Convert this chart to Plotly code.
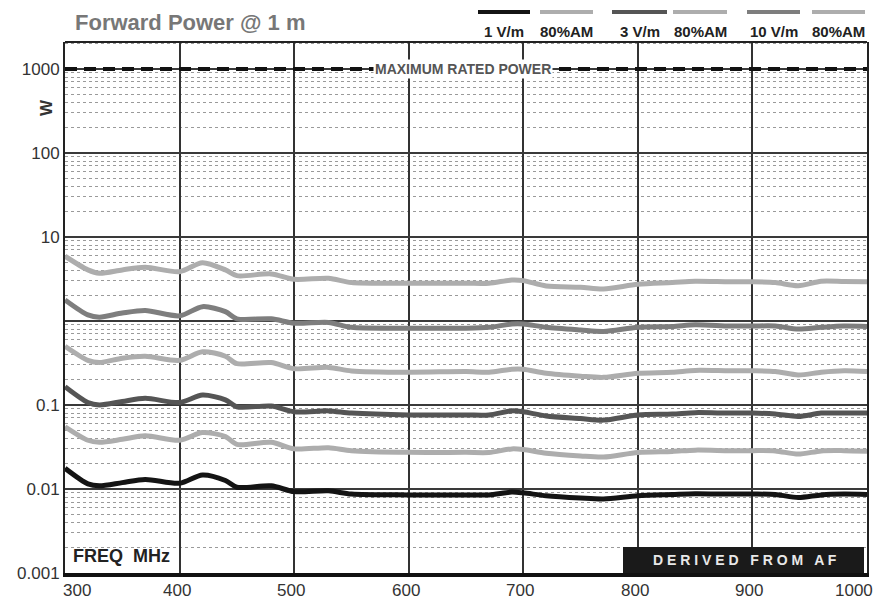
import plotly.graph_objects as go

# ---- data ----
freq_mhz = [300, 320, 330, 350, 370, 400, 420, 440, 450, 480, 500, 530, 550, 600, 650,
            670, 690, 700, 720, 750, 770, 800, 830, 850, 880, 900, 920, 940, 960, 980, 1000]

p_1vm = [0.0176, 0.0115, 0.0109, 0.0119, 0.0130, 0.0117, 0.0147, 0.0126, 0.0105, 0.0109,
         0.0093, 0.0095, 0.0087, 0.0085, 0.0085, 0.0085, 0.0092, 0.0090, 0.0083, 0.0078,
         0.0076, 0.0083, 0.0086, 0.0088, 0.0087, 0.0087, 0.0086, 0.0079, 0.0085, 0.0087, 0.0086]
p_1vm_am = [0.055, 0.038, 0.036, 0.039, 0.043, 0.038, 0.047, 0.042, 0.034, 0.036,
            0.030, 0.031, 0.0286, 0.0273, 0.0273, 0.0272, 0.030, 0.0295, 0.0266, 0.0247,
            0.024, 0.0272, 0.028, 0.029, 0.0286, 0.0286, 0.0284, 0.026, 0.0284, 0.0286, 0.0282]
p_3vm = [0.165, 0.107, 0.100, 0.110, 0.120, 0.107, 0.131, 0.115, 0.095, 0.097,
         0.083, 0.085, 0.080, 0.076, 0.076, 0.076, 0.085, 0.083, 0.074, 0.069,
         0.066, 0.076, 0.078, 0.081, 0.080, 0.080, 0.078, 0.073, 0.080, 0.080, 0.080]
p_3vm_am = [0.50, 0.34, 0.32, 0.36, 0.38, 0.34, 0.43, 0.38, 0.31, 0.32,
            0.27, 0.28, 0.254, 0.245, 0.25, 0.245, 0.266, 0.266, 0.238, 0.22,
            0.213, 0.238, 0.245, 0.258, 0.255, 0.255, 0.25, 0.228, 0.245, 0.255, 0.25]
p_10vm = [1.78, 1.18, 1.11, 1.24, 1.33, 1.15, 1.48, 1.29, 1.06, 1.06,
          0.94, 0.96, 0.84, 0.82, 0.82, 0.84, 0.92, 0.92, 0.84, 0.78,
          0.75, 0.84, 0.86, 0.90, 0.87, 0.87, 0.87, 0.80, 0.84, 0.87, 0.86]
p_10vm_am = [5.9, 4.05, 3.7, 4.05, 4.36, 3.86, 4.94, 4.05, 3.46, 3.63,
             3.13, 3.22, 2.86, 2.81, 2.81, 2.81, 3.07, 3.02, 2.61, 2.52,
             2.40, 2.73, 2.86, 2.97, 2.92, 2.92, 2.86, 2.63, 2.97, 2.95, 2.92]

max_power_x = [300, 1000]
max_power_y = [1000, 1000]

y_tickvals = [0.001, 0.01, 0.1, 1, 10, 100, 1000]
y_ticktext = ["0.001", "0.01", "0.1", "", "10", "100", "1000"]
x_tickvals = [300, 400, 500, 600, 700, 800, 900, 1000]
x_ticktext = ["300", "400", "500", "600", "700", "800", "900", "1000"]

legend_labels = ["1 V/m", "80%AM", "3 V/m", "80%AM", "10 V/m", "80%AM"]

# ---- styles ----
C_BLACK = "#141414"
C_LIGHT = "#adadad"
C_DARK = "#555555"
C_MID = "#7e7e7e"
series = [
    (p_10vm_am, C_LIGHT), (p_10vm, C_MID),
    (p_3vm_am, C_LIGHT), (p_3vm, C_DARK),
    (p_1vm_am, C_LIGHT), (p_1vm, C_BLACK),
]
legend_colors = [C_BLACK, C_LIGHT, C_DARK, C_LIGHT, C_MID, C_LIGHT]

W, H = 875, 605
ML, MR, MT, MB = 65, 8, 42, 32
PW, PH = W - ML - MR, H - MT - MB


def px(x):
    return (x - ML) / PW


def py(y):
    return (H - MB - y) / PH


FONT = "Liberation Sans, Arial, sans-serif"

fig = go.Figure()

for vals, col in series:
    fig.add_trace(go.Scatter(x=freq_mhz, y=vals, mode="lines",
                             line=dict(color=col, width=5, shape="spline", smoothing=0.8),
                             showlegend=False, hoverinfo="skip"))

fig.add_trace(go.Scatter(x=max_power_x, y=max_power_y, mode="lines",
                         line=dict(color="#111111", width=4, dash="12px,7px"),
                         showlegend=False, hoverinfo="skip"))

shapes = []
annotations = []

# top border
shapes.append(dict(type="line", xref="paper", yref="paper", x0=0, x1=1, y0=1, y1=1,
                   line=dict(color="#222222", width=2)))

# legend swatches and labels
sw = [(478, 530), (540, 593), (612, 667), (673, 727), (747, 800), (812, 865)]
for (a, b), col, lab in zip(sw, legend_colors, legend_labels):
    shapes.append(dict(type="line", xref="paper", yref="paper", x0=px(a), x1=px(b),
                       y0=py(12), y1=py(12), line=dict(color=col, width=4)))
    annotations.append(dict(xref="paper", yref="paper", x=px((a + b) / 2), y=py(31),
                            text="<b>" + lab + "</b>", showarrow=False,
                            xanchor="center", yanchor="middle",
                            font=dict(family=FONT, size=15, color="#222222")))

# x tick labels (endpoints nudged inward as in the original)
x_shift = {300: 12, 1000: -13}
for v, t in zip(x_tickvals, x_ticktext):
    annotations.append(dict(x=v, y=py(590), xref="x", yref="paper", text=t,
                            showarrow=False, xanchor="center", yanchor="middle",
                            xshift=x_shift.get(v, -3),
                            font=dict(family=FONT, size=17, color="#333333")))

# title
annotations.append(dict(xref="paper", yref="paper", x=px(73), y=py(22),
                        text="<b>Forward Power @ 1 m</b>", showarrow=False,
                        xanchor="left", yanchor="middle",
                        font=dict(family=FONT, size=22, color="#777777")))

# y-axis title
annotations.append(dict(xref="paper", yref="paper", x=px(47), y=py(108),
                        text="<b>W</b>", showarrow=False, textangle=-90,
                        xanchor="center", yanchor="middle",
                        font=dict(family=FONT, size=17, color="#333333")))

# maximum rated power label
annotations.append(dict(x=647, y=3, xref="x", yref="y",
                        text="<b>MAXIMUM RATED POWER</b>", showarrow=False,
                        xanchor="center", yanchor="middle", bgcolor="white",
                        font=dict(family=FONT, size=14, color="#555555")))

# FREQ MHz
annotations.append(dict(xref="paper", yref="paper", x=px(71), y=py(556),
                        text="<b>FREQ  MHz</b>", showarrow=False,
                        xanchor="left", yanchor="middle",
                        font=dict(family=FONT, size=18, color="#222222")))

# DERIVED FROM AF box
shapes.append(dict(type="rect", xref="paper", yref="paper", x0=px(623), x1=px(864),
                   y0=py(573), y1=py(547), fillcolor="#1a1a1a", line=dict(width=0)))
annotations.append(dict(xref="paper", yref="paper", x=px(745), y=py(560),
                        text="<b>D E R I V E D   F R O M   A F</b>", showarrow=False,
                        xanchor="center", yanchor="middle",
                        font=dict(family=FONT, size=14, color="#e8e8e8")))

fig.update_layout(
    width=W, height=H,
    margin=dict(l=ML, r=MR, t=MT, b=MB, autoexpand=False),
    paper_bgcolor="white", plot_bgcolor="white",
    showlegend=False,
    shapes=shapes, annotations=annotations,
    xaxis=dict(range=[300, 1000], tickvals=x_tickvals, showgrid=True,
               showticklabels=False, automargin=False,
               gridcolor="#333333", gridwidth=1.5, zeroline=False,
               showline=True, linecolor="#111111", linewidth=4, mirror=False,
               ticks=""),
    yaxis=dict(type="log", range=[-3, 3.32], tickvals=y_tickvals, ticktext=y_ticktext,
               automargin=False,
               showgrid=True, gridcolor="#3a3a3a", gridwidth=1.5, zeroline=False,
               showline=True, linecolor="#222222", linewidth=2, mirror=True,
               ticks="", tickfont=dict(family=FONT, size=17, color="#333333"),
               minor=dict(dtick="D1", showgrid=True, gridcolor="#9a9a9a",
                          griddash="dot", gridwidth=1.2, ticks="")),
)

fig.write_html("out.html", config={"displayModeBar": False},
               post_script="document.body.style.margin='0';document.body.style.padding='0';")
